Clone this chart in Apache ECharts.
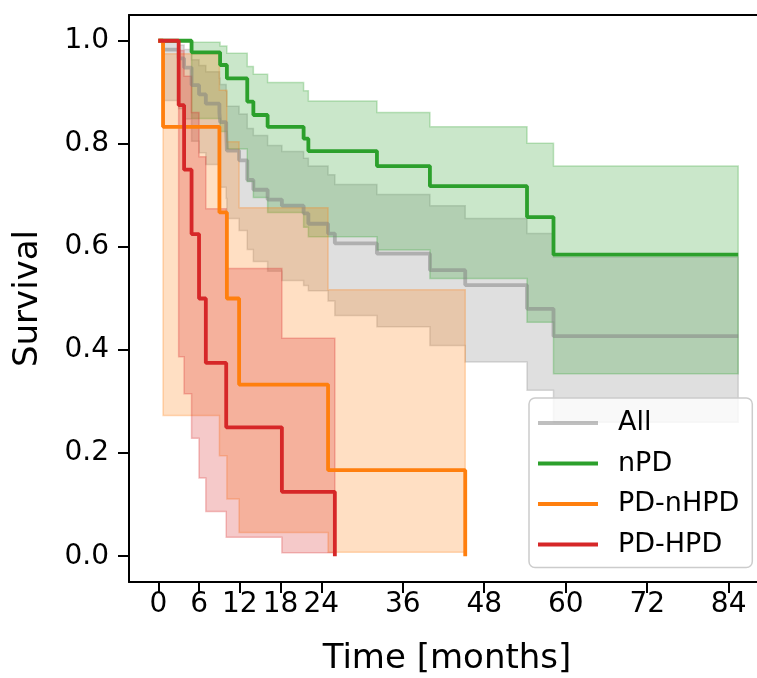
<!DOCTYPE html>
<html>
<head>
<meta charset="utf-8">
<script src="https://cdn.jsdelivr.net/npm/echarts@6/dist/echarts.min.js"></script>
<style>html,body{margin:0;padding:0;background:#fff;}#chart{width:757px;height:678px;}</style>
</head>
<body>
<div id="chart"></div>
<script>
// ---- Data ----
const xTicks = [0, 6, 12, 18, 24, 36, 48, 60, 72, 84];
const yTicks = [0, 0.2, 0.4, 0.6, 0.8, 1.0];
const groupNames = ['All', 'nPD', 'PD-nHPD', 'PD-HPD'];

// All
const allT  = [0, 0.7, 3, 3.8, 4.9, 6, 7, 9, 9.1, 10, 10.1, 11.9, 13.1, 14, 16.1, 18.2, 21.4, 22.1, 25, 26, 32.2, 40, 45.2, 54.3, 58.2];
const allS  = [1, 0.983, 0.966, 0.948, 0.914, 0.896, 0.878, 0.860, 0.842, 0.824, 0.787, 0.768, 0.730, 0.711, 0.692, 0.680, 0.665, 0.645, 0.626, 0.607, 0.587, 0.555, 0.526, 0.480, 0.427];
const allLo = [1, 0.884, 0.868, 0.848, 0.805, 0.783, 0.760, 0.738, 0.716, 0.694, 0.655, 0.632, 0.595, 0.572, 0.553, 0.535, 0.525, 0.515, 0.495, 0.467, 0.445, 0.409, 0.377, 0.322, 0.260];
const allHi = [1, 0.998, 0.992, 0.983, 0.963, 0.952, 0.940, 0.928, 0.915, 0.902, 0.873, 0.858, 0.830, 0.816, 0.797, 0.785, 0.772, 0.757, 0.740, 0.721, 0.702, 0.680, 0.655, 0.626, 0.580];
const allEnd = 85.4;

// nPD
const npdT  = [0, 4.9, 9.1, 10.1, 13.1, 14, 16.1, 21.4, 22.1, 32.2, 40, 54.3, 58.2];
const npdS  = [1, 0.9775, 0.953, 0.927, 0.882, 0.856, 0.833, 0.810, 0.786, 0.757, 0.718, 0.658, 0.585];
const npdLo = [1, 0.849, 0.824, 0.790, 0.727, 0.696, 0.667, 0.638, 0.620, 0.594, 0.539, 0.454, 0.354];
const npdHi = [1, 0.997, 0.990, 0.976, 0.950, 0.935, 0.919, 0.903, 0.883, 0.861, 0.833, 0.801, 0.757];
const npdEnd = 85.4;

// PD-nHPD
const nhpdT  = [0, 0.7, 9, 10.1, 11.9, 25, 45.2];
const nhpdS  = [1, 0.833, 0.667, 0.5, 0.333, 0.167, 0];
const nhpdLo = [1, 0.273, 0.195, 0.111, 0.046, 0.0077, 0];
const nhpdHi = [1, 0.975, 0.904, 0.804, 0.676, 0.517, 0];
const nhpdEnd = 45.2;

// PD-HPD
const hpdT  = [0, 3, 3.8, 4.9, 6, 7, 10, 18.2, 26];
const hpdS  = [1, 0.875, 0.75, 0.625, 0.5, 0.375, 0.25, 0.125, 0];
const hpdLo = [1, 0.387, 0.315, 0.229, 0.152, 0.087, 0.037, 0.0066, 0];
const hpdHi = [1, 0.981, 0.931, 0.861, 0.775, 0.674, 0.558, 0.423, 0];
const hpdEnd = 26;

// ---- Styling ----
const FONT = 'DejaVu Sans';
const groups = [
  {name: groupNames[0], T: allT,  S: allS,  lo: allLo,  hi: allHi,  end: allEnd,  line: 'rgba(128,128,128,0.5)', band: [128,128,128]},
  {name: groupNames[1], T: npdT,  S: npdS,  lo: npdLo,  hi: npdHi,  end: npdEnd,  line: '#2ca02c', band: [44,160,44]},
  {name: groupNames[2], T: nhpdT, S: nhpdS, lo: nhpdLo, hi: nhpdHi, end: nhpdEnd, line: '#ff7f0e', band: [255,127,14]},
  {name: groupNames[3], T: hpdT,  S: hpdS,  lo: hpdLo,  hi: hpdHi,  end: hpdEnd,  line: '#d62728', band: [214,39,40]}
];

function bandSeries(g, idx) {
  return {
    type: 'custom',
    name: g.name + ' CI',
    silent: true,
    z: 1 + idx * 0.01,
    data: [[0, 0]],
    renderItem: function (params, api) {
      const up = [], lo = [];
      for (let i = 0; i < g.T.length; i++) {
        const t0 = g.T[i];
        const t1 = (i + 1 < g.T.length) ? g.T[i + 1] : g.end;
        if (t1 <= t0) continue;
        up.push(api.coord([t0, g.hi[i]]));
        up.push(api.coord([t1, g.hi[i]]));
        lo.push(api.coord([t0, g.lo[i]]));
        lo.push(api.coord([t1, g.lo[i]]));
      }
      const pts = up.concat(lo.reverse());
      const c = g.band;
      return {
        type: 'polygon',
        shape: {points: pts},
        style: {
          fill: 'rgba(' + c.join(',') + ',0.25)',
          stroke: 'rgba(' + c.join(',') + ',0.28)',
          lineWidth: 1.5
        }
      };
    }
  };
}

function lineSeries(g, idx) {
  const data = g.T.map((t, i) => [t, g.S[i]]);
  data.push([g.end, g.S[g.S.length - 1]]);
  return {
    type: 'line',
    name: g.name,
    step: 'end',
    showSymbol: false,
    symbol: 'none',
    z: 5 + idx * 0.01,
    color: g.line,
    lineStyle: {color: g.line, width: 3.8},
    data: data,
    animation: false
  };
}

const series = groups.map(bandSeries).concat(groups.map(lineSeries));

const xMin = -4.315, xMax = 88.17;
const chart = echarts.init(document.getElementById('chart'), null, {renderer: 'canvas'});
chart.setOption({
  animation: false,
  backgroundColor: '#ffffff',
  grid: {left: 129, top: 15, width: 628, height: 567, containLabel: false, outerBoundsMode: 'none'},
  xAxis: [{
    type: 'value', min: xMin, max: xMax,
    axisLine: {show: true, onZero: false, lineStyle: {color: '#000', width: 2}},
    axisTick: {show: true, length: 11, inside: false, lineStyle: {color: '#000', width: 2}, customValues: xTicks},
    axisLabel: {customValues: xTicks, fontSize: 28, fontFamily: FONT, color: '#000', margin: 9},
    splitLine: {show: false},
    name: 'Time [months]', nameLocation: 'middle', nameGap: 60,
    nameTextStyle: {fontSize: 34, fontFamily: FONT, color: '#000', padding: [0, 0, 0, 8]}
  }, {
    type: 'value', min: xMin, max: xMax, position: 'top',
    axisLine: {show: true, onZero: false, lineStyle: {color: '#000', width: 2}},
    axisTick: {show: false}, axisLabel: {show: false}, splitLine: {show: false}
  }],
  yAxis: [{
    type: 'value', min: -0.05, max: 1.05,
    axisLine: {show: true, onZero: false, lineStyle: {color: '#000', width: 2}},
    axisTick: {show: true, length: 11, lineStyle: {color: '#000', width: 2}, customValues: yTicks},
    axisLabel: {customValues: yTicks, fontSize: 28, fontFamily: FONT, color: '#000', margin: 20,
      formatter: v => v.toFixed(1)},
    splitLine: {show: false},
    name: 'Survival', nameLocation: 'middle', nameGap: 84,
    nameTextStyle: {fontSize: 34, fontFamily: FONT, color: '#000'}
  }],
  legend: {
    orient: 'vertical', left: 529, top: 398,
    itemWidth: 60, itemHeight: 4, itemGap: 10.5, icon: 'rect',
    padding: [10, 13, 8, 9],
    backgroundColor: 'rgba(255,255,255,0.8)', borderColor: '#cccccc', borderWidth: 1.5, borderRadius: 6,
    textStyle: {fontSize: 27, fontFamily: FONT, color: '#000', lineHeight: 30, padding: [0, 0, 0, 15]},
    data: groupNames
  },
  series: series
});
</script>
</body>
</html>
